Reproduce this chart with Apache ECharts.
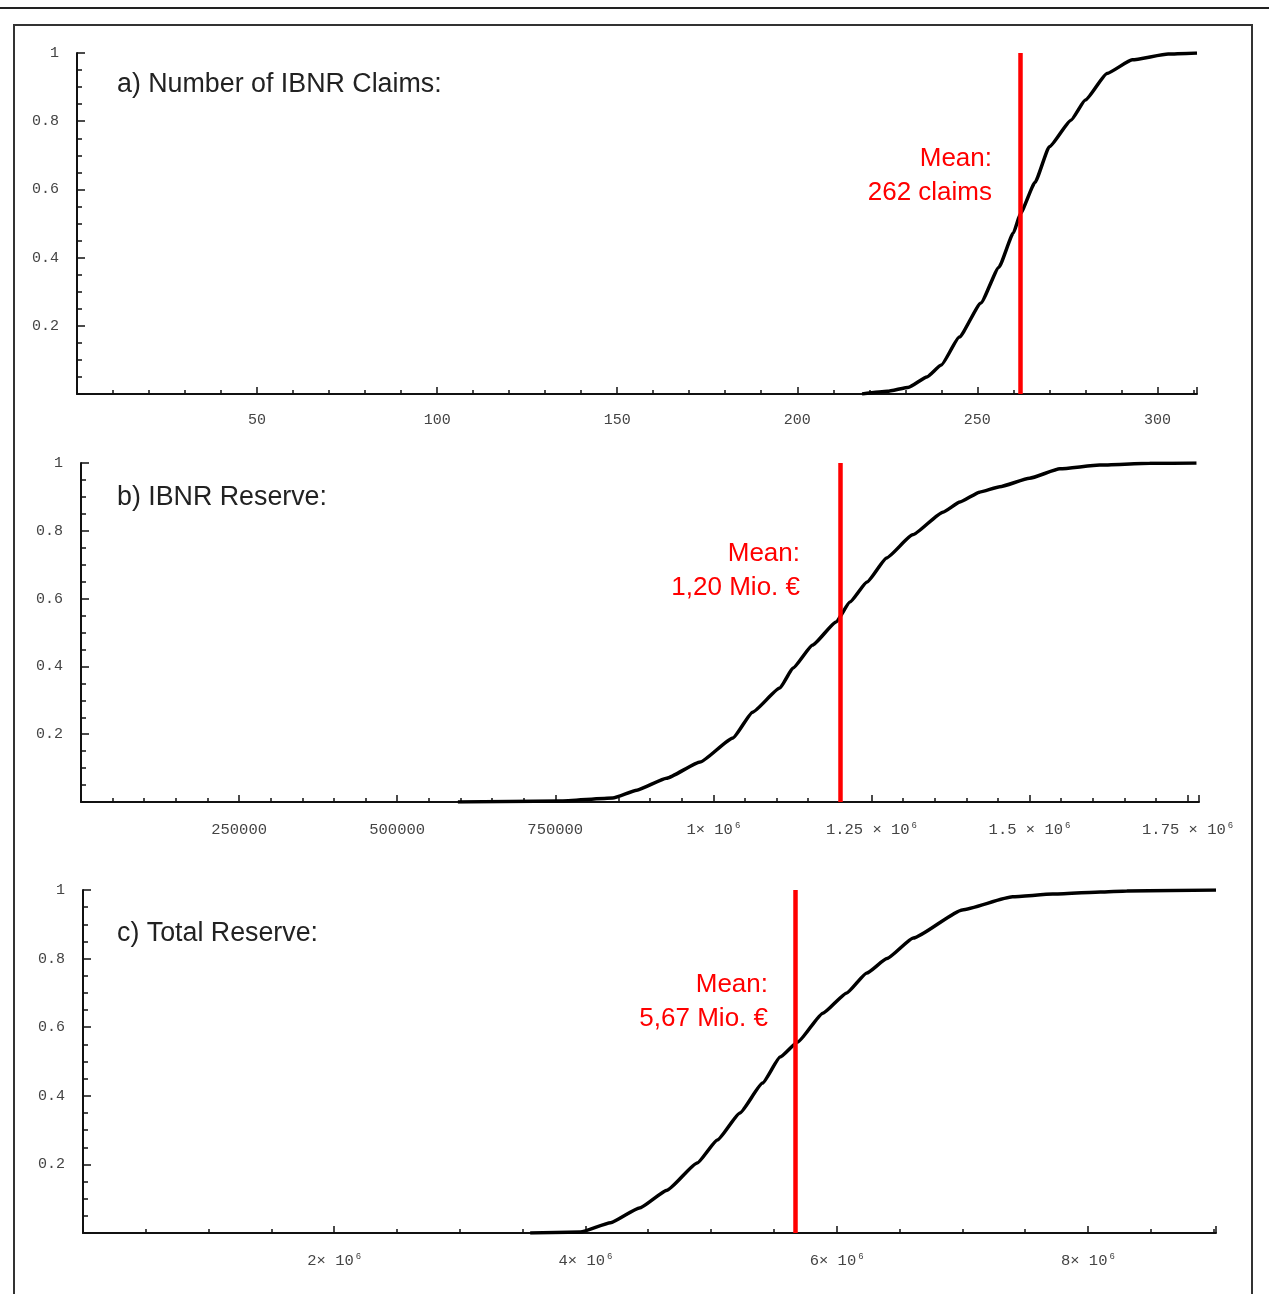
<!DOCTYPE html>
<html>
<head>
<meta charset="utf-8">
<script src="https://cdn.jsdelivr.net/npm/echarts@6/dist/echarts.min.js"></script>
<style>
html,body{margin:0;padding:0;background:#fff;}
#chart{width:1269px;height:1294px;}
</style>
</head>
<body>
<div id="chart"></div>
<script>
// ---- Data ----
// a) Number of IBNR claims – empirical CDF
const claimsX = [218, 225, 231, 236, 240, 245, 251, 256, 260, 262, 266, 270, 276, 280, 286, 293, 303, 311];
const claimsY = [0, 0.008, 0.02, 0.05, 0.085, 0.167, 0.267, 0.372, 0.472, 0.53, 0.62, 0.725, 0.803, 0.862, 0.94, 0.98, 0.997, 1];
const meanClaims = 262;

// b) IBNR reserve – empirical CDF
const reserveX = [596000, 757000, 841000, 879000, 926000, 979000, 1031000, 1062000, 1105000, 1126000, 1157000, 1194000, 1216000, 1243000, 1274000, 1315000, 1363000, 1390000, 1421000, 1453000, 1500000, 1548000, 1611000, 1690000, 1764000];
const reserveY = [0, 0.003, 0.012, 0.035, 0.07, 0.118, 0.189, 0.265, 0.336, 0.395, 0.463, 0.531, 0.59, 0.649, 0.72, 0.788, 0.855, 0.885, 0.914, 0.93, 0.955, 0.983, 0.994, 0.999, 1];
const meanReserve = 1200000;

// c) Total reserve – empirical CDF
const totalX = [3560000, 3960000, 4200000, 4430000, 4650000, 4890000, 5050000, 5230000, 5410000, 5550000, 5690000, 5890000, 6080000, 6240000, 6400000, 6610000, 7000000, 7400000, 7720000, 8100000, 8310000, 9020000];
const totalY = [0, 0.003, 0.03, 0.073, 0.125, 0.204, 0.271, 0.35, 0.437, 0.513, 0.557, 0.641, 0.70, 0.758, 0.80, 0.86, 0.942, 0.98, 0.988, 0.994, 0.997, 1];
const meanTotal = 5670000;

// Tick labels
const yTickLabels = {0.2: '0.2', 0.4: '0.4', 0.6: '0.6', 0.8: '0.8', 1: '1'};
const claimsTickLabels = {50: '50', 100: '100', 150: '150', 200: '200', 250: '250', 300: '300'};
const reserveTickLabels = {
  250000: '{n|250000}', 500000: '{n|500000}', 750000: '{n|750000}',
  1000000: '{n|1× 10}{s|6}', 1250000: '{n|1.25 × 10}{s|6}',
  1500000: '{n|1.5 × 10}{s|6}', 1750000: '{n|1.75 × 10}{s|6}'
};
const totalTickLabels = {2000000: '{n|2× 10}{s|6}', 4000000: '{n|4× 10}{s|6}', 6000000: '{n|6× 10}{s|6}', 8000000: '{n|8× 10}{s|6}'};

const titles = ['a) Number of IBNR Claims:', 'b) IBNR Reserve:', 'c) Total Reserve:'];
const meanTexts = ['Mean:\n262 claims', 'Mean:\n1,20 Mio. €', 'Mean:\n5,67 Mio. €'];

// ---- Layout ----
const grids = [
  {left: 77, top: 53, width: 1120, height: 341},
  {left: 81, top: 463, width: 1118, height: 339},
  {left: 83, top: 890, width: 1133, height: 343}
];
const xCfg = [
  {max: 311, interval: 50, minor: 4, labels: claimsTickLabels},
  {max: 1768000, interval: 250000, minor: 4, labels: reserveTickLabels},
  {max: 9020000, interval: 2000000, minor: 3, labels: totalTickLabels}
];
const seriesData = [
  claimsX.map((x, i) => [x, claimsY[i]]),
  reserveX.map((x, i) => [x, reserveY[i]]),
  totalX.map((x, i) => [x, totalY[i]])
];
const means = [meanClaims, meanReserve, meanTotal];

const tickFont = '"Liberation Mono", "DejaVu Sans Mono", monospace';
const axisColor = '#111';

function lookup(map, v) {
  for (const k in map) { if (Math.abs(Number(k) - v) < 1e-6 * Math.max(1, Math.abs(v))) return map[k]; }
  return '';
}

const xAxes = xCfg.map((c, i) => ({
  type: 'value', gridIndex: i, min: 0, max: c.max, interval: c.interval,
  axisLine: {show: true, lineStyle: {color: axisColor, width: 2}},
  axisTick: {show: true, inside: true, length: 7, lineStyle: {color: axisColor, width: 1.5}},
  minorTick: {show: true, splitNumber: c.minor + 1, length: 4, lineStyle: {color: axisColor, width: 1.5}},
  splitLine: {show: false},
  axisLabel: {
    margin: 19, color: '#444', fontFamily: tickFont, fontSize: 15,
    formatter: v => lookup(c.labels, v),
    rich: {
      n: {fontFamily: tickFont, fontSize: 15.5, color: '#444', lineHeight: 18},
      s: {fontFamily: tickFont, fontSize: 9, color: '#444', verticalAlign: 'top', lineHeight: 18, padding: [0, 0, 0, 2]}
    }
  }
}));
const yAxes = grids.map((g, i) => ({
  type: 'value', gridIndex: i, min: 0, max: 1, interval: 0.2,
  axisLine: {show: true, lineStyle: {color: axisColor, width: 2}},
  axisTick: {show: true, inside: true, length: 8, lineStyle: {color: axisColor, width: 1.5}},
  minorTick: {show: true, splitNumber: 4, length: 5, lineStyle: {color: axisColor, width: 1.5}},
  splitLine: {show: false},
  axisLabel: {margin: 18, color: '#444', fontFamily: tickFont, fontSize: 15, formatter: v => lookup(yTickLabels, v)}
}));

const series = seriesData.map((d, i) => ({
  type: 'line', xAxisIndex: i, yAxisIndex: i, data: d, showSymbol: false,
  smooth: 0.15, smoothMonotone: 'x',
  lineStyle: {color: '#000', width: 3.5}, z: 3, silent: true,
  markLine: {
    silent: true, symbol: ['none', 'none'], animation: false,
    label: {show: false},
    lineStyle: {color: '#ff0000', width: 4.5, type: 'solid'},
    data: [{xAxis: means[i]}], z: 5
  }
}));

const titleTops = [86, 499, 935];
const meanPos = [[992, 159], [800, 554], [768, 985]];
const graphic = [
  {type: 'line', shape: {x1: 0, y1: 8, x2: 1269, y2: 8}, style: {stroke: '#222', lineWidth: 2}, silent: true},
  {type: 'rect', shape: {x: 14, y: 25, width: 1238, height: 1300}, style: {fill: 'none', stroke: '#333', lineWidth: 2}, silent: true}
];
titles.forEach((t, i) => {
  graphic.push({type: 'text', left: 117, top: titleTops[i] - 15,
    style: {text: t, fill: '#222', font: '26.8px "Liberation Sans", Arial, sans-serif'}});
});
meanTexts.forEach((t, i) => {
  graphic.push({type: 'text', x: meanPos[i][0], y: meanPos[i][1] - 17,
    style: {text: t, fill: '#ff0000', align: 'right', verticalAlign: 'top', lineHeight: 34,
      font: '26px "Liberation Sans", Arial, sans-serif'}});
});

const chart = echarts.init(document.getElementById('chart'), null, {renderer: 'canvas'});
chart.setOption({
  animation: false,
  backgroundColor: '#fff',
  grid: grids,
  xAxis: xAxes,
  yAxis: yAxes,
  series: series,
  graphic: graphic
});
</script>
</body>
</html>
